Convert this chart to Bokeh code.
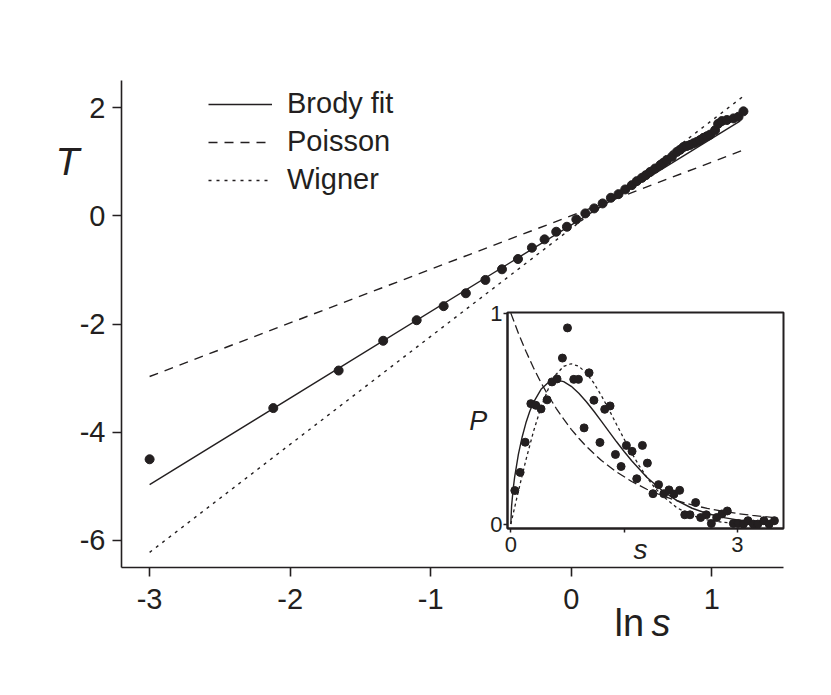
from bokeh.plotting import figure
from bokeh.models import Range1d, Legend, LegendItem, Label, FixedTicker
from bokeh.layouts import column
from bokeh.embed import file_html
from bokeh.resources import INLINE

INK = "#231f20"
FONT = "Liberation Sans"

# ---------------- main panel data ----------------
x_ticks = [-3, -2, -1, 0, 1]
y_ticks = [-6, -4, -2, 0, 2]
x_tick_text = {-3: "-3", -2: "-2", -1: "-1", 0: "0", 1: "1"}
y_tick_text = {-6: "-6", -4: "-4", -2: "-2", 0: "0", 2: "2"}

lns_points = [-3.0, -2.12, -1.655, -1.338, -1.10, -0.908, -0.75, -0.611, -0.493,
              -0.379, -0.28, -0.19, -0.107, -0.031, 0.036, 0.10, 0.163, 0.223,
              0.282, 0.336, 0.384, 0.431, 0.466, 0.502, 0.53, 0.561, 0.597, 0.633,
              0.655, 0.68, 0.716, 0.751, 0.775, 0.798, 0.822, 0.846, 0.87, 0.893,
              0.917, 0.94, 0.965, 0.988, 1.023, 1.045, 1.071, 1.107, 1.154, 1.19, 1.225]
T_points = [-4.50, -3.554, -2.86, -2.31, -1.93, -1.67, -1.432, -1.186, -0.989,
            -0.799, -0.59, -0.436, -0.295, -0.203, -0.067, 0.044, 0.136, 0.228,
            0.333, 0.40, 0.487, 0.566, 0.64, 0.70, 0.75, 0.81, 0.874, 0.935,
            0.98, 1.03, 1.09, 1.18, 1.22, 1.27, 1.29, 1.31, 1.34, 1.365,
            1.40, 1.44, 1.47, 1.50, 1.58, 1.70, 1.75, 1.77, 1.80, 1.83, 1.93]

brody_lns = [-3.0, 1.2]
brody_T = [-4.97, 1.75]
poisson_lns = [-3.0, 1.24]
poisson_T = [-2.97, 1.23]
wigner_lns = [-3.0, 1.24]
wigner_T = [-6.22, 2.24]

# ---------------- inset data ----------------
inset_x_ticks = [0, 1.5, 3]
inset_y_ticks = [0, 1]

s_points = [0.053, 0.123, 0.19, 0.265, 0.331, 0.40, 0.48, 0.545, 0.612, 0.683,
            0.75, 0.833, 0.895, 0.97, 1.036, 1.10, 1.18, 1.243, 1.314, 1.385,
            1.46, 1.53, 1.605, 1.667, 1.742, 1.808, 1.882, 1.956, 2.025, 2.094,
            2.16, 2.235, 2.303, 2.372, 2.447, 2.513, 2.588, 2.655, 2.725, 2.795,
            2.866, 2.946, 3.01, 3.08, 3.14, 3.21, 3.27, 3.35, 3.42, 3.49]
P_points = [0.159, 0.245, 0.388, 0.571, 0.563, 0.546, 0.589, 0.674, 0.688, 0.787,
            0.930, 0.686, 0.686, 0.456, 0.717, 0.587, 0.387, 0.544, 0.560, 0.330,
            0.273, 0.373, 0.345, 0.215, 0.373, 0.289, 0.144, 0.187, 0.144, 0.162,
            0.142, 0.160, 0.044, 0.044, 0.102, 0.031, 0.044, 0.003, 0.031, 0.048,
            0.062, 0.003, 0.003, 0.0, 0.016, 0.0, 0.0, 0.016, 0.0, 0.016]

brody_s = [0, 0.01, 0.03, 0.05, 0.1, 0.15, 0.2, 0.25, 0.3, 0.4, 0.5, 0.6, 0.7, 0.8,
           0.9, 1.0, 1.1, 1.2, 1.3, 1.4, 1.5, 1.6, 1.8, 2.0, 2.2, 2.4, 2.6, 2.8,
           3.0, 3.2, 3.5]
brody_P = [0, 0.085, 0.163, 0.221, 0.330, 0.413, 0.480, 0.534, 0.577, 0.639, 0.672,
           0.683, 0.675, 0.653, 0.620, 0.580, 0.535, 0.487, 0.438, 0.390, 0.344,
           0.300, 0.222, 0.160, 0.111, 0.075, 0.050, 0.032, 0.020, 0.012, 0.006]

poisson_s = [0, 0.1, 0.2, 0.3, 0.4, 0.5, 0.6, 0.7, 0.8, 0.9, 1.0, 1.2, 1.4, 1.6,
             1.8, 2.0, 2.2, 2.4, 2.6, 2.8, 3.0, 3.2, 3.5]
poisson_P = [1.0, 0.905, 0.819, 0.741, 0.670, 0.607, 0.549, 0.497, 0.449, 0.407,
             0.368, 0.301, 0.247, 0.202, 0.165, 0.135, 0.111, 0.091, 0.074, 0.061,
             0.050, 0.041, 0.030]

wigner_s = [0, 0.1, 0.2, 0.3, 0.4, 0.5, 0.6, 0.7, 0.8, 0.9, 1.0, 1.1, 1.2, 1.3,
            1.4, 1.5, 1.6, 1.7, 1.8, 1.9, 2.0, 2.2, 2.4, 2.6, 2.8, 3.0, 3.2, 3.5]
wigner_P = [0, 0.156, 0.304, 0.439, 0.554, 0.645, 0.710, 0.748, 0.760, 0.748,
            0.716, 0.668, 0.608, 0.542, 0.472, 0.403, 0.337, 0.276, 0.222, 0.175,
            0.136, 0.077, 0.041, 0.020, 0.009, 0.004, 0.002, 0.0004]

# ---------------- main figure ----------------
p = figure(width=829, height=690, output_backend="svg", toolbar_location=None,
           x_range=Range1d(-3.2, 1.51), y_range=Range1d(-6.5, 2.5),
           min_border_left=121, min_border_right=46, min_border_top=80,
           min_border_bottom=123)
p.outline_line_color = None
p.grid.visible = False
p.background_fill_color = "white"
p.border_fill_color = "white"

for ax in (p.xaxis[0], p.yaxis[0]):
    ax.axis_line_color = INK
    ax.axis_line_width = 1.6
    ax.major_tick_line_color = INK
    ax.major_tick_line_width = 1.6
    ax.major_tick_out = 9
    ax.major_tick_in = 0
    ax.minor_tick_line_color = None
    ax.major_label_text_font = FONT
    ax.major_label_text_font_size = "29px"
    ax.major_label_text_color = INK
p.xaxis.ticker = FixedTicker(ticks=x_ticks)
p.yaxis.ticker = FixedTicker(ticks=y_ticks)
p.xaxis.major_label_overrides = x_tick_text
p.yaxis.major_label_overrides = y_tick_text
p.xaxis.major_label_standoff = 12
p.yaxis.major_label_standoff = 7

r_b = p.line(brody_lns, brody_T, line_color=INK, line_width=1.4)
r_p = p.line(poisson_lns, poisson_T, line_color=INK, line_width=1.4, line_dash="9 7")
r_w = p.line(wigner_lns, wigner_T, line_color=INK, line_width=1.4, line_dash="3 5")
p.scatter(lns_points, T_points, size=9, marker="circle", fill_color=INK, line_color=INK)

legend = Legend(items=[LegendItem(label="Brody fit", renderers=[r_b]),
                       LegendItem(label="Poisson", renderers=[r_p]),
                       LegendItem(label="Wigner", renderers=[r_w])],
                location=(87, 371))
legend.label_text_font = FONT
legend.label_text_font_size = "29px"
legend.label_text_color = INK
legend.glyph_width = 64
legend.glyph_height = 30
legend.label_height = 30
legend.spacing = 5
legend.padding = 0
legend.margin = 0
legend.label_standoff = 15
legend.background_fill_alpha = 0
legend.border_line_alpha = 0
p.add_layout(legend)

# ---------------- inset figure ----------------
q = figure(width=443, height=276, output_backend="svg", toolbar_location=None,
           x_range=Range1d(-0.044, 3.61), y_range=Range1d(-0.021, 1.003),
           min_border_left=60, min_border_right=4, min_border_top=15,
           min_border_bottom=45)
q.grid.visible = False
q.outline_line_color = INK
q.outline_line_width = 2
q.background_fill_color = "white"
q.border_fill_alpha = 0

for ax in (q.xaxis[0], q.yaxis[0]):
    ax.axis_line_color = INK
    ax.axis_line_width = 2
    ax.major_tick_line_color = INK
    ax.major_tick_line_width = 1.5
    ax.major_tick_out = 4
    ax.major_tick_in = 0
    ax.minor_tick_line_color = None
    ax.major_label_text_font = FONT
    ax.major_label_text_font_size = "22px"
    ax.major_label_text_color = INK
q.xaxis.ticker = FixedTicker(ticks=inset_x_ticks)
q.xaxis.major_label_overrides = {0: "0", 1.5: "", 3: "3"}
q.yaxis.ticker = FixedTicker(ticks=inset_y_ticks)
q.xaxis.major_label_standoff = 4
q.yaxis.major_label_standoff = 1
q.yaxis.axis_label = "P"
q.yaxis.axis_label_orientation = "horizontal"
q.yaxis.axis_label_text_font = FONT
q.yaxis.axis_label_text_font_style = "italic"
q.yaxis.axis_label_text_font_size = "27px"
q.yaxis.axis_label_text_color = INK
q.yaxis.axis_label_standoff = 0

q.line(poisson_s, poisson_P, line_color=INK, line_width=1.3, line_dash="9 4")
q.line(wigner_s, wigner_P, line_color=INK, line_width=1.3, line_dash="3 3")
q.line(brody_s, brody_P, line_color=INK, line_width=1.4)
q.scatter(s_points, P_points, size=8, marker="circle", fill_color=INK, line_color=INK)

q.margin = (-393, 0, 0, 386)

# ---------------- transparent overlay carrying the axis titles ----------------
# its frame spans page pixels x 30..692, y 0..690 (y downward)
t = figure(width=829, height=690, output_backend="svg", toolbar_location=None,
           x_range=Range1d(30, 692), y_range=Range1d(690, 0),
           x_axis_location=None, y_axis_location=None,
           min_border_left=0, min_border_right=0, min_border_top=0,
           min_border_bottom=0)
t.grid.visible = False
t.outline_line_color = None
t.background_fill_alpha = 0
t.border_fill_alpha = 0
t.margin = (-573, 0, 0, -91)

t.add_layout(Label(x=67, y=161, text="T", text_font=FONT, text_font_style="italic",
                   text_font_size="39px", text_color=INK, text_align="center",
                   text_baseline="alphabetic"))
t.add_layout(Label(x=614, y=622, text="ln", text_font=FONT, text_font_size="38px",
                   text_color=INK, text_align="left", text_baseline="alphabetic"))
t.add_layout(Label(x=651, y=622, text="s", text_font=FONT, text_font_style="italic",
                   text_font_size="38px", text_color=INK, text_align="left",
                   text_baseline="alphabetic"))
t.add_layout(Label(x=640, y=549, text="s", text_font=FONT, text_font_style="italic",
                   text_font_size="28px", text_color=INK, text_align="center",
                   text_baseline="alphabetic"))

layout = column(p, q, t)
open("out.html", "w").write(file_html(layout, INLINE))
